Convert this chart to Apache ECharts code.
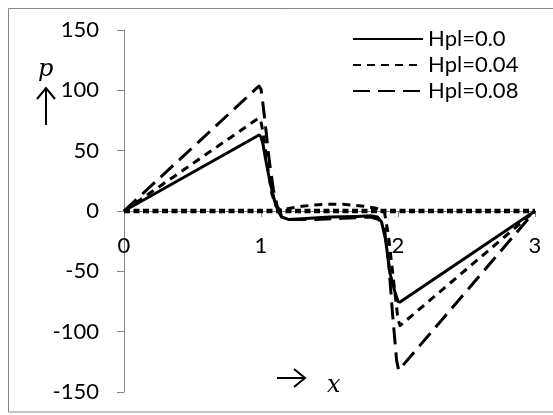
<!DOCTYPE html>
<html><head><meta charset="utf-8">
<script src="https://cdn.jsdelivr.net/npm/echarts@6/dist/echarts.min.js"></script>
<style>html,body{margin:0;padding:0;background:#fff}#c{width:553px;height:415px}</style>
</head><body><div id="c"></div>
<script>
// Data
const seriesNames = ['Hpl=0.0', 'Hpl=0.04', 'Hpl=0.08'];
const xH0 = [0, 0.97, 0.985, 1.0, 1.015, 1.035, 1.066, 1.1, 1.125, 1.15, 1.2, 1.3, 1.5, 1.7, 1.8, 1.85, 1.88, 1.91, 1.94, 1.98, 2.0, 2.015, 3.0];
const yH0 = [0, 62, 63, 61.5, 55, 42, 24, 8, 0, -5, -7, -6.5, -5, -4.5, -4, -5, -9, -24, -51, -68, -75, -75.5, 0];
const xH004 = [0, 0.97, 0.985, 1.0, 1.02, 1.05, 1.08, 1.11, 1.14, 1.2, 1.3, 1.45, 1.6, 1.75, 1.85, 1.9, 1.93, 1.97, 2.0, 2.015, 3.0];
const yH004 = [0, 76, 77, 74, 62, 35, 14, 4, 1, 2, 4, 5.5, 5.5, 4, 2, 0, -20, -60, -90, -95, 0];
const xH008 = [0, 0.97, 0.985, 1.0, 1.015, 1.035, 1.06, 1.09, 1.12, 1.15, 1.2, 1.4, 1.6, 1.8, 1.86, 1.9, 1.93, 1.96, 1.99, 2.005, 3.0];
const yH008 = [0, 102, 103.5, 101, 88, 68, 42, 18, 3, -4, -7, -7, -6, -5, -7, -14, -40, -85, -124, -132, 0];
const xBase = [0, 3];
const yBase = [0, 0];
const yTicks = {min: -150, max: 150, step: 50};
const xTicks = {min: 0, max: 3, step: 1};

function pairs(xs, ys) { return xs.map((x, i) => [x, ys[i]]); }

const W = 553, H = 415;
const gridBox = {left: 124, right: 18, top: 30, bottom: 23};
const plotH = H - gridBox.top - gridBox.bottom;
// place the x axis where y = 0 (onZero behaviour)
const xAxisOffset = -plotH * (0 - yTicks.min) / (yTicks.max - yTicks.min);

const chart = echarts.init(document.getElementById('c'), null, {renderer: 'canvas'});
const FONT = 'Lato';
const FS = 22;
const axisGray = '#868686';
chart.setOption({
  animation: false,
  backgroundColor: '#fff',
  grid: Object.assign({outerBoundsMode: 'none', containLabel: false}, gridBox),
  xAxis: {
    type: 'value', min: xTicks.min, max: xTicks.max, interval: xTicks.step,
    position: 'bottom', offset: xAxisOffset,
    axisLine: {onZero: false, lineStyle: {color: axisGray, width: 1}},
    axisTick: {show: true, inside: false, length: 6, lineStyle: {color: axisGray}},
    axisLabel: {margin: 24, fontFamily: FONT, fontSize: FS, color: '#000'},
    splitLine: {show: false}
  },
  yAxis: {
    type: 'value', min: yTicks.min, max: yTicks.max, interval: yTicks.step,
    axisLine: {show: true, onZero: false, lineStyle: {color: axisGray, width: 1}},
    axisTick: {show: true, inside: false, length: 7, lineStyle: {color: axisGray}},
    axisLabel: {margin: 25, fontFamily: FONT, fontSize: FS, color: '#000'},
    splitLine: {show: false}
  },
  legend: {
    orient: 'vertical', left: 347, top: 23,
    itemWidth: 70, itemHeight: 14, itemGap: 4,
    data: seriesNames,
    itemStyle: {opacity: 0},
    textStyle: {fontFamily: FONT, fontSize: FS, color: '#000', lineHeight: 22}
  },
  series: [
    {name: 'base', type: 'line', data: pairs(xBase, yBase), symbol: 'none', z: 1,
     lineStyle: {color: '#000', width: 4.5, type: [6, 3.5]}},
    {name: seriesNames[0], type: 'line', data: pairs(xH0, yH0), symbol: 'none',
     lineStyle: {color: '#000', width: 3, type: 'solid', join: 'round'}, itemStyle: {color: '#000'}},
    {name: seriesNames[1], type: 'line', data: pairs(xH004, yH004), symbol: 'none',
     lineStyle: {color: '#000', width: 3, type: [8, 6], join: 'round'}, itemStyle: {color: '#000'}},
    {name: seriesNames[2], type: 'line', data: pairs(xH008, yH008), symbol: 'none',
     lineStyle: {color: '#000', width: 3, type: [17, 8], join: 'round'}, itemStyle: {color: '#000'}}
  ],
  graphic: [
    {type: 'rect', shape: {x: 8.5, y: 8.5, width: 560, height: 403.5}, style: {fill: 'none', stroke: axisGray, lineWidth: 1}, silent: true, z: -1},
    {type: 'text', left: 38, top: 58, style: {text: 'p', font: 'italic 24px "DejaVu Serif"', fill: '#000'}},
    {type: 'line', shape: {x1: 46, y1: 125, x2: 46, y2: 88}, style: {stroke: '#000', lineWidth: 2}},
    {type: 'polyline', shape: {points: [[37, 99], [46, 88], [55, 99]]}, style: {stroke: '#000', lineWidth: 2, fill: 'none'}},
    {type: 'line', shape: {x1: 277, y1: 378, x2: 305, y2: 378}, style: {stroke: '#000', lineWidth: 2}},
    {type: 'polyline', shape: {points: [[294, 369], [305, 378], [294, 387]]}, style: {stroke: '#000', lineWidth: 2, fill: 'none'}},
    {type: 'text', left: 327, top: 374, style: {text: 'x', font: 'italic 24px "DejaVu Serif"', fill: '#000'}}
  ]
});
</script></body></html>
